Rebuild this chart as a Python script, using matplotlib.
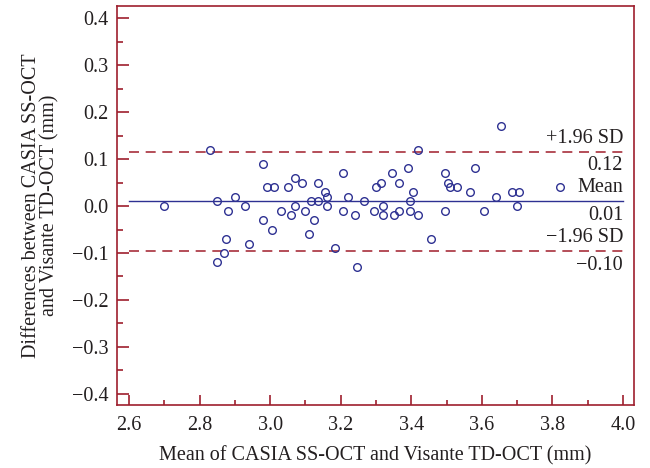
import numpy as np
import matplotlib.pyplot as plt
from matplotlib.ticker import MultipleLocator, FuncFormatter

plt.rcParams['font.family'] = ['Liberation Serif', 'DejaVu Serif']

# --- data ---
mean_vals = [2.70, 2.83, 2.98, 3.07, 3.09, 2.99, 3.01, 3.05, 2.90, 2.85,
             2.93, 2.88, 3.07, 3.03, 3.06, 3.10, 3.115, 2.98, 3.005, 3.11,
             2.875, 2.94, 2.87, 2.85, 3.135, 3.205, 3.155, 3.16, 3.135, 3.16,
             3.125, 3.22, 3.205, 3.24, 3.265, 3.185, 3.245, 3.30, 3.315, 3.345,
             3.365, 3.39, 3.42, 3.405, 3.395, 3.32, 3.295, 3.32, 3.35, 3.365,
             3.395, 3.42, 3.455, 3.495, 3.505, 3.51, 3.53, 3.495, 3.565, 3.58,
             3.655, 3.605, 3.64, 3.685, 3.705, 3.70, 3.82]
diff_vals = [0.00, 0.12, 0.09, 0.06, 0.05, 0.04, 0.04, 0.04, 0.02, 0.01,
             0.00, -0.01, 0.00, -0.01, -0.02, -0.01, 0.01, -0.03, -0.05, -0.06,
             -0.07, -0.08, -0.10, -0.12, 0.05, 0.07, 0.03, 0.02, 0.01, 0.00,
             -0.03, 0.02, -0.01, -0.02, 0.01, -0.09, -0.13, 0.04, 0.05, 0.07,
             0.05, 0.08, 0.12, 0.03, 0.01, 0.00, -0.01, -0.02, -0.02, -0.01,
             -0.01, -0.02, -0.07, 0.07, 0.05, 0.04, 0.04, -0.01, 0.03, 0.08,
             0.17, -0.01, 0.02, 0.03, 0.03, 0.00, 0.04]

bias = 0.0103
upper_loa = 0.1155
lower_loa = -0.0955
line_x = [2.6, 4.0]

spine_col = '#9E1F2E'
dash_col = '#A8303C'
blue = '#2E3192'
txt_col = '#231F20'


def fmt(v, pos=None):
    s = f'{v:.1f}'
    return s.replace('-', '\u2212')


fig = plt.figure(figsize=(6.5, 4.68), dpi=100)
ax = fig.add_axes([0.18, 0.1346, 0.7954, 0.8524])

ax.plot(mean_vals, diff_vals, 'o', mfc='none', mec=blue, mew=1.0, ms=5.5, zorder=3)
ax.plot(line_x, [bias, bias], color=blue, lw=1.0)
ax.plot(line_x, [upper_loa, upper_loa], color=dash_col, lw=1.2, dashes=(6, 4))
ax.plot(line_x, [lower_loa, lower_loa], color=dash_col, lw=1.2, dashes=(6, 4))

fs = 14.5
lbl = dict(ha='right', fontsize=fs, color=txt_col)
ax.text(4.0, upper_loa + 0.008, '+1.96 SD', va='bottom', **lbl)
ax.text(4.0, upper_loa - 0.010, f'{upper_loa:.2f}', va='top', **lbl)
ax.text(4.0, bias + 0.008, 'Mean', va='bottom', **lbl)
ax.text(4.0, bias - 0.010, f'{bias:.2f}', va='top', **lbl)
ax.text(4.0, lower_loa + 0.008, '\u22121.96 SD', va='bottom', **lbl)
ax.text(4.0, lower_loa - 0.010, f'\u2212{abs(lower_loa):.2f}', va='top', **lbl)

ax.set_xlim(2.566, 4.031)
ax.set_ylim(-0.4235, 0.4255)
ax.xaxis.set_major_locator(MultipleLocator(0.2))
ax.xaxis.set_minor_locator(MultipleLocator(0.1))
ax.yaxis.set_major_locator(MultipleLocator(0.1))
ax.yaxis.set_minor_locator(MultipleLocator(0.05))
ax.xaxis.set_major_formatter(FuncFormatter(fmt))
ax.yaxis.set_major_formatter(FuncFormatter(fmt))

for s in ax.spines.values():
    s.set_color(spine_col)
    s.set_linewidth(1.2)
ax.tick_params(which='both', direction='in', color=spine_col, width=1.2,
               labelsize=fs, labelcolor=txt_col, top=False, right=False)
ax.tick_params(axis='y', which='major', length=8.5, pad=6)
ax.tick_params(axis='y', which='minor', length=4.5)
ax.tick_params(axis='x', which='major', length=7.5, pad=8)
ax.tick_params(axis='x', which='minor', length=3.8)

ax.set_xlabel('Mean of CASIA SS-OCT and Visante TD-OCT (mm)', fontsize=fs,
              color=txt_col, labelpad=8)
ax.set_ylabel('Differences between CASIA SS-OCT\nand Visante TD-OCT (mm)', fontsize=fs,
              color=txt_col, linespacing=0.95, multialignment='center', labelpad=9)

fig.savefig('out.png', dpi=100)
